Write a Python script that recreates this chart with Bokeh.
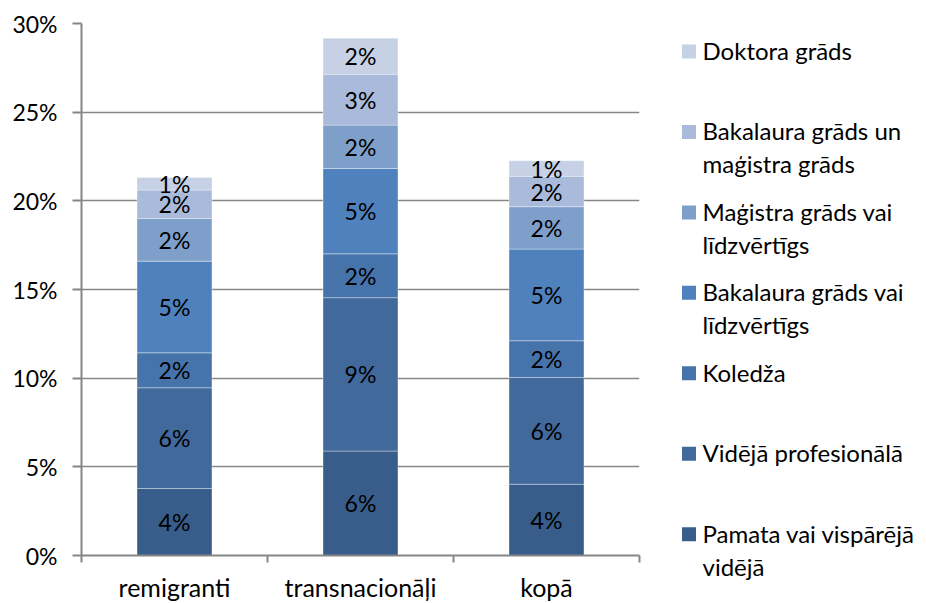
import numpy as np
from bokeh.plotting import figure
from bokeh.layouts import row
from bokeh.models import ColumnDataSource, FixedTicker, Range1d
from bokeh.core.properties import value
from bokeh.embed import file_html
from bokeh.resources import INLINE

# ---------------- data ----------------
categories = ["remigranti", "transnacionāļi", "kopā"]

series = [
    "Pamata vai vispārējā vidējā",
    "Vidējā profesionālā",
    "Koledža",
    "Bakalaura grāds vai līdzvērtīgs",
    "Maģistra grāds vai līdzvērtīgs",
    "Bakalaura grāds un maģistra grāds",
    "Doktora grāds",
]
legend_lines = [
    ["Pamata vai vispārējā", "vidējā"],
    ["Vidējā profesionālā"],
    ["Koledža"],
    ["Bakalaura grāds vai", "līdzvērtīgs"],
    ["Maģistra grāds vai", "līdzvērtīgs"],
    ["Bakalaura grāds un", "maģistra grāds"],
    ["Doktora grāds"],
]
colors = ["#385D8A", "#41699C", "#4673AA", "#4F81BD", "#7F9FCB", "#A9BADA", "#C6D1E5"]

pamata = [3.78, 5.89, 4.02]
videja_prof = [5.68, 8.65, 6.02]
koledza = [1.97, 2.47, 2.07]
bakalaurs = [5.17, 4.81, 5.17]
magistrs = [2.41, 2.45, 2.39]
bak_un_mag = [1.60, 2.87, 1.71]
doktors = [0.70, 2.03, 0.88]
values_by_series = [pamata, videja_prof, koledza, bakalaurs, magistrs, bak_un_mag, doktors]

y_ticks = [0, 5, 10, 15, 20, 25, 30]
y_tick_labels = ["0%", "5%", "10%", "15%", "20%", "25%", "30%"]

# ---------------- style ----------------
FONT = "Lato"
FS_NUM = "23px"
FS_TXT = "25px"
FS_LEG = "24px"
GRAY = "#868686"

FRAME_W, FRAME_H = 558, 532
BL, BT, BR, BB = 81, 23, 10, 46
p = figure(frame_width=FRAME_W, frame_height=FRAME_H,
           x_range=Range1d(0, len(categories)), y_range=Range1d(0, 30),
           output_backend="svg", toolbar_location=None,
           min_border_left=BL, min_border_top=BT, min_border_bottom=BB, min_border_right=BR)
p.outline_line_color = None

xpos = np.arange(len(categories)) + 0.5
data = {"x": xpos}
for name, vals in zip(series, values_by_series):
    data[name] = vals
src = ColumnDataSource(data)

p.vbar_stack(series, x="x", width=0.403, color=colors, source=src,
             line_color="white", line_alpha=0.35, line_width=1)

# data labels
lx, ly, lt = [], [], []
bottom = np.zeros(len(categories))
for vals in values_by_series:
    v = np.array(vals)
    for i in range(len(categories)):
        lx.append(xpos[i])
        ly.append(bottom[i] + v[i] / 2)
        lt.append(f"{int(round(v[i]))}%")
    bottom += v
p.text(x=lx, y=ly, text=lt, text_align="center", text_baseline="middle",
       text_font=value(FONT), text_font_size=FS_NUM, text_color="black")

# axes
p.yaxis.ticker = FixedTicker(ticks=y_ticks)
p.yaxis.major_label_overrides = {t: l for t, l in zip(y_ticks, y_tick_labels)}
p.yaxis.axis_line_color = GRAY
p.yaxis.axis_line_width = 2
p.yaxis.major_tick_line_color = GRAY
p.yaxis.major_tick_line_width = 2
p.yaxis.major_tick_out = 9
p.yaxis.major_tick_in = 0
p.yaxis.minor_tick_line_color = None
p.yaxis.major_label_standoff = 15
p.yaxis.major_label_text_font = FONT
p.yaxis.major_label_text_font_size = FS_NUM
p.yaxis.major_label_text_color = "black"

p.xaxis.ticker = FixedTicker(ticks=list(xpos), minor_ticks=list(range(len(categories) + 1)))
p.xaxis.major_label_overrides = {float(x): c for x, c in zip(xpos, categories)}
p.xaxis.axis_line_color = GRAY
p.xaxis.axis_line_width = 2
p.xaxis.major_tick_line_color = None
p.xaxis.major_tick_out = 0
p.xaxis.major_tick_in = 0
p.xaxis.minor_tick_line_color = GRAY
p.xaxis.minor_tick_line_width = 2
p.xaxis.minor_tick_out = 7
p.xaxis.minor_tick_in = 0
p.xaxis.major_label_standoff = 9
p.xaxis.major_label_text_font = FONT
p.xaxis.major_label_text_font_size = FS_TXT
p.xaxis.major_label_text_color = "black"

p.xgrid.visible = False
p.ygrid.ticker = FixedTicker(ticks=y_ticks)
p.ygrid.grid_line_color = GRAY
p.ygrid.grid_line_width = 1.5

# ---------------- legend (separate panel) ----------------
main_w = BL + FRAME_W + BR
LW = 272
LEG_H = FRAME_H + BB - 4
frame_top = 1 + BT
frame_bot = frame_top + LEG_H
lf = figure(frame_width=LW, frame_height=LEG_H,
            x_range=Range1d(1 + main_w, 1 + main_w + LW), y_range=Range1d(frame_bot, frame_top),
            output_backend="svg", toolbar_location=None,
            x_axis_type=None, y_axis_type=None,
            min_border_left=0, min_border_right=0, min_border_top=BT, min_border_bottom=4)
lf.outline_line_color = None
lf.xgrid.visible = False
lf.ygrid.visible = False

order = list(range(len(series)))[::-1]   # top to bottom: Doktora ... Pamata
first_y = 52
step = 80.45
line_h = 33
sq_x, sq_size, txt_x = 689.5, 14, 703
sx, sy, sc = [], [], []
tx, ty, tt = [], [], []
for k, idx in enumerate(order):
    y0 = first_y + k * step
    sx.append(sq_x)
    sy.append(y0)
    sc.append(colors[idx])
    for j, line in enumerate(legend_lines[idx]):
        tx.append(txt_x)
        ty.append(y0 - 1 + j * line_h)
        tt.append(line)
lf.rect(x=sx, y=sy, width=sq_size, height=sq_size, width_units="screen", height_units="screen",
        fill_color=sc, line_color=None)
lf.text(x=tx, y=ty, text=tt, text_align="left", text_baseline="middle",
        text_font=value(FONT), text_font_size=FS_LEG, text_color="black")

layout = row(p, lf)
open("out.html", "w").write(file_html(layout, INLINE))
